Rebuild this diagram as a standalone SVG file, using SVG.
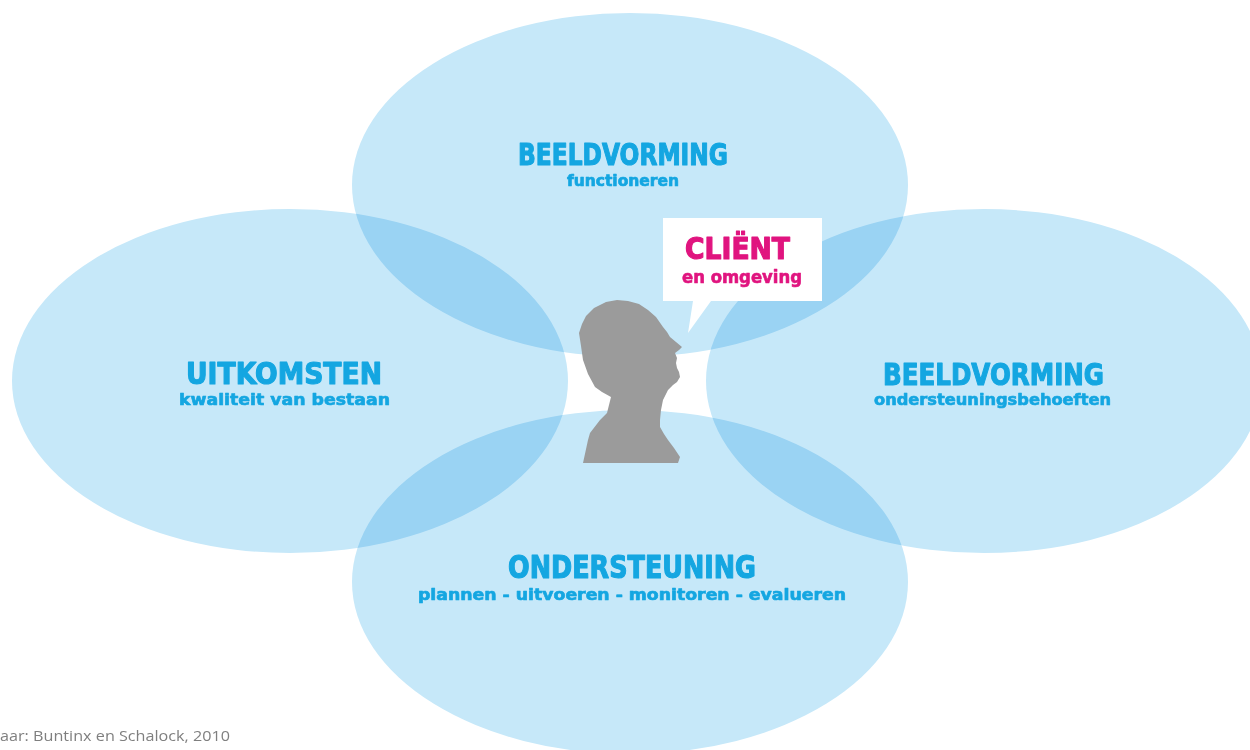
<svg xmlns="http://www.w3.org/2000/svg" width="1250" height="750" viewBox="0 0 1250 750">
<style>
.ell{fill:#c6e8f9;mix-blend-mode:multiply}
.h{font-family:"Liberation Sans Narrow","DejaVu Sans Condensed","Liberation Sans",sans-serif;font-weight:bold;font-stretch:condensed;fill:#14a6e1;stroke:#14a6e1;stroke-width:1.1;stroke-linejoin:round;text-anchor:middle}
.s{stroke-width:0.6}
.c{fill:#e0147f;stroke:#e0147f}
.cap{font-family:"Open Sans","Liberation Sans",sans-serif;font-size:14px;fill:#7f7f7f}
</style>
<rect width="1250" height="750" fill="#ffffff"/>
<g id="circles" style="isolation:isolate">
<g id="beeldvorming-functioneren"><ellipse class="ell" cx="630" cy="185" rx="278" ry="172"/></g>
<g id="uitkomsten"><ellipse class="ell" cx="290" cy="381" rx="278" ry="172"/></g>
<g id="beeldvorming-ondersteuning"><ellipse class="ell" cx="984" cy="381" rx="278" ry="172"/></g>
<g id="ondersteuning"><ellipse class="ell" cx="630" cy="582" rx="278" ry="172"/></g>
</g>
<g id="labels">
<text class="h" x="623" y="165" font-size="31" textLength="210" lengthAdjust="spacingAndGlyphs">BEELDVORMING</text>
<text class="h s" x="623" y="186" font-size="15" textLength="112" lengthAdjust="spacingAndGlyphs">functioneren</text>
<text class="h" x="284" y="384" font-size="31" textLength="196" lengthAdjust="spacingAndGlyphs">UITKOMSTEN</text>
<text class="h s" x="284.5" y="405" font-size="16" textLength="211" lengthAdjust="spacingAndGlyphs">kwaliteit van bestaan</text>
<text class="h" x="993.5" y="385" font-size="31" textLength="221" lengthAdjust="spacingAndGlyphs">BEELDVORMING</text>
<text class="h s" x="992.5" y="405" font-size="16" textLength="237" lengthAdjust="spacingAndGlyphs">ondersteuningsbehoeften</text>
<text class="h" x="632" y="578" font-size="32" textLength="248" lengthAdjust="spacingAndGlyphs">ONDERSTEUNING</text>
<text class="h s" x="632" y="600" font-size="16" textLength="428" lengthAdjust="spacingAndGlyphs">plannen - uitvoeren - monitoren - evalueren</text>
</g>
<g id="client">
<path d="M663 218 H822 V301 H711 L688 333 L693 301 H663 Z" fill="#ffffff"/>
<path id="head" fill="#9b9b9b" d="M583 463 L588 440 L590 433 L600 420 L607 413 L611 397 L602 392 L595 387 L588 374 L583 360 L581 346 L579 333 L582 324 L586 316 L594 308 L606 302 L617 300 L628 301 L639 304 L648 310 L656 317 L663 327 L667 332 L670 337 L676 342 L682 347 L679 350 L675 353 L677 358 L676 363 L677 368 L679 372 L680 377 L677 382 L673 385 L668 390 L663 400 L661 410 L660 420 L660 427 L664 434 L668 440 L674 448 L680 457 L678 463 Z"/>
<text class="h c" x="737.5" y="259" font-size="30" textLength="105" lengthAdjust="spacingAndGlyphs">CLIËNT</text>
<text class="h c s" x="742" y="283" font-size="18" textLength="120" lengthAdjust="spacingAndGlyphs">en omgeving</text>
</g>
<text class="cap" x="0" y="741" textLength="230" lengthAdjust="spacingAndGlyphs">aar: Buntinx en Schalock, 2010</text>
</svg>
